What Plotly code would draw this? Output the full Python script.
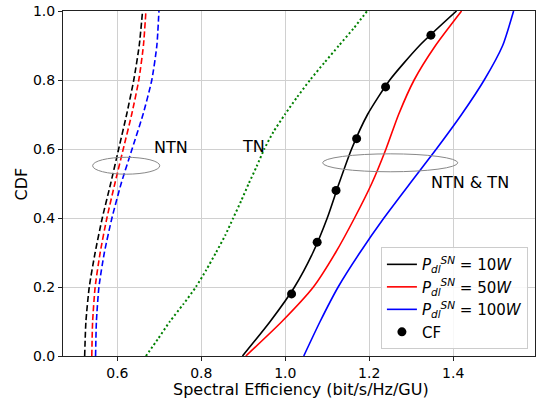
import plotly.graph_objects as go

# ---- data ----
# NTN (dashed)
ntn_y = [0.0, 0.1, 0.2, 0.3, 0.4, 0.5, 0.6, 0.7, 0.8, 0.9, 1.0]
ntn10_x = [0.522, 0.525, 0.533, 0.547, 0.564, 0.584, 0.603, 0.622, 0.639, 0.652, 0.660]
ntn50_x = [0.539, 0.541, 0.547, 0.559, 0.575, 0.594, 0.614, 0.634, 0.651, 0.662, 0.668]
ntn100_x = [0.548, 0.550, 0.556, 0.569, 0.587, 0.609, 0.635, 0.661, 0.682, 0.694, 0.699]

# TN (dotted)
tn_y = [0.0, 0.05, 0.1, 0.15, 0.2, 0.25, 0.3, 0.35, 0.4, 0.45, 0.5,
        0.55, 0.6, 0.65, 0.7, 0.75, 0.8, 0.85, 0.9, 0.95, 1.0]
tn_x = [0.668, 0.697, 0.725, 0.757, 0.787, 0.812, 0.835, 0.857, 0.876, 0.895, 0.913,
        0.932, 0.950, 0.972, 0.999, 1.028, 1.059, 1.093, 1.128, 1.163, 1.195]

# NTN & TN (solid)
sol_y = [0.0, 0.1, 0.2, 0.3, 0.4, 0.5, 0.6, 0.7, 0.8, 0.9, 1.0]
p10_x = [0.898, 0.964, 1.022, 1.066, 1.100, 1.128, 1.158, 1.196, 1.249, 1.320, 1.408]
p50_x = [0.906, 0.992, 1.067, 1.120, 1.165, 1.206, 1.240, 1.270, 1.307, 1.358, 1.420]
p100_x = [1.044, 1.083, 1.126, 1.178, 1.235, 1.297, 1.360, 1.420, 1.474, 1.518, 1.544]

# closed form (CF) markers
cf_x = [1.015, 1.076, 1.121, 1.170, 1.239, 1.347]
cf_y = [0.18, 0.33, 0.48, 0.63, 0.78, 0.93]

x_ticks = [0.6, 0.8, 1.0, 1.2, 1.4]
y_ticks = [0.0, 0.2, 0.4, 0.6, 0.8, 1.0]

x_title = "Spectral Efficiency (bit/s/Hz/GU)"
y_title = "CDF"
labels = ["<i>P</i><sub><i>dl</i></sub><sup><i>SN</i></sup> = 10<i>W</i>",
          "<i>P</i><sub><i>dl</i></sub><sup><i>SN</i></sup> = 50<i>W</i>",
          "<i>P</i><sub><i>dl</i></sub><sup><i>SN</i></sup> = 100<i>W</i>"]

FONT = "DejaVu Sans"
LW = 1.6
DASH = "6px,3px"
SMOOTH = 0.6

fig = go.Figure()

# NTN dashed (not in legend)
for xs, col in [(ntn10_x, "black"), (ntn50_x, "red"), (ntn100_x, "blue")]:
    fig.add_trace(go.Scatter(x=xs, y=ntn_y, mode="lines", showlegend=False, hoverinfo="skip",
                             line=dict(color=col, width=LW, dash=DASH, shape="spline", smoothing=SMOOTH)))

# TN dotted
fig.add_trace(go.Scatter(x=tn_x, y=tn_y, mode="lines", showlegend=False, hoverinfo="skip",
                         line=dict(color="#008000", width=2, dash="2px,2.5px", shape="spline", smoothing=SMOOTH)))

# solid curves (legend)
for xs, col, lab in [(p10_x, "black", labels[0]),
                     (p50_x, "red", labels[1]),
                     (p100_x, "blue", labels[2])]:
    fig.add_trace(go.Scatter(x=xs, y=sol_y, mode="lines", name=lab, hoverinfo="skip",
                             line=dict(color=col, width=LW, shape="spline", smoothing=SMOOTH)))

fig.add_trace(go.Scatter(x=cf_x, y=cf_y, mode="markers", name="CF", hoverinfo="skip",
                         marker=dict(color="black", size=9)))

# ellipses
fig.add_shape(type="circle", xref="x", yref="y", x0=0.541, x1=0.701, y0=0.527, y1=0.576,
              line=dict(color="#888888", width=1))
fig.add_shape(type="circle", xref="x", yref="y", x0=1.089, x1=1.411, y0=0.534, y1=0.586,
              line=dict(color="#888888", width=1))

# text labels
for txt, ax, ay in [("NTN", 0.728, 0.603), ("TN", 0.925, 0.607), ("NTN &amp; TN", 1.441, 0.503)]:
    fig.add_annotation(x=ax, y=ay, text=txt, showarrow=False, xanchor="center", yanchor="middle",
                       font=dict(family=FONT, size=16, color="black"))

# axis titles
fig.add_annotation(xref="paper", yref="paper", x=0.505, y=-0.097, text=x_title, showarrow=False,
                   xanchor="center", yanchor="middle", font=dict(family=FONT, size=16, color="black"))
fig.add_annotation(xref="paper", yref="paper", x=-0.087, y=0.5, text=y_title, showarrow=False,
                   textangle=-90, xanchor="center", yanchor="middle",
                   font=dict(family=FONT, size=16, color="black"))

axis_common = dict(showline=True, mirror=True, linecolor="#222222", linewidth=1,
                   ticks="outside", ticklen=4, tickcolor="#222222", tickwidth=1,
                   showgrid=True, gridcolor="#d0d0d0", gridwidth=1, zeroline=False,
                   automargin=False,
                   tickfont=dict(family=FONT, size=14, color="black"))

fig.update_layout(
    width=539, height=403,
    margin=dict(l=63, r=4, t=11, b=47),
    plot_bgcolor="white", paper_bgcolor="white",
    font=dict(family=FONT, color="black"),
    xaxis=dict(range=[0.4704, 1.595], tickvals=x_ticks, tickformat=".1f", **axis_common),
    yaxis=dict(range=[0, 1], tickvals=y_ticks, tickformat=".1f", **axis_common),
    legend=dict(x=0.985, y=0.02, xanchor="right", yanchor="bottom",
                bgcolor="rgba(255,255,255,0.85)", bordercolor="#cccccc", borderwidth=1,
                font=dict(family=FONT, size=15, color="black"), tracegroupgap=0,
                itemwidth=30),
)

fig.write_html("out.html", config={"displayModeBar": False},
               post_script="document.body.style.margin='0';document.body.style.overflow='hidden';")
